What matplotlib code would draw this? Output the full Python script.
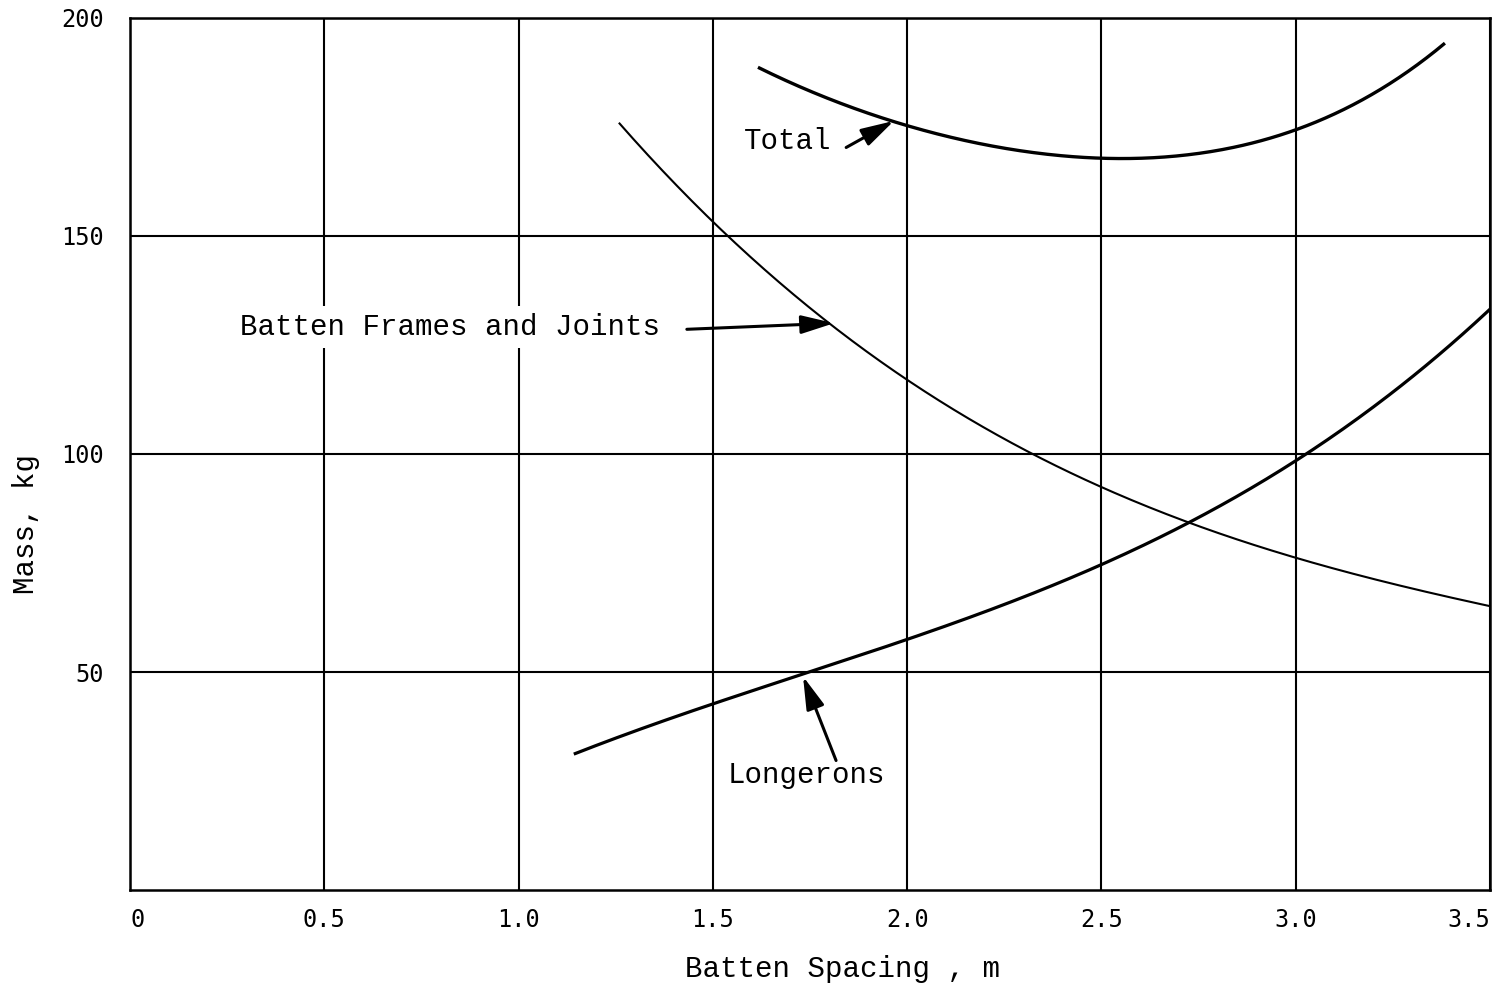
import matplotlib
matplotlib.use("Agg")
import matplotlib.pyplot as plt
import numpy as np

# Data (x = batten spacing in m, y = mass in kg)
total_x = [1.616, 1.80, 1.967, 2.20, 2.37, 2.50, 2.70, 2.90, 3.00, 3.20, 3.384]
total_y = [188.6, 181.5, 176.4, 171.0, 168.2, 167.6, 168.8, 172.0, 174.4, 182.0, 194.5]

batten_x = [1.258, 1.50, 1.81, 2.00, 2.33, 2.50, 2.737, 3.00, 3.25, 3.50]
batten_y = [176.0, 153.0, 130.0, 116.5, 100.0, 91.8, 84.0, 76.4, 70.3, 65.0]

longeron_x = [1.142, 1.50, 1.74, 2.00, 2.25, 2.50, 2.737, 3.00, 3.25, 3.50]
longeron_y = [31.4, 42.1, 50.0, 57.2, 66.0, 75.3, 84.0, 98.2, 114.5, 133.2]

x_ticks = [0, 0.5, 1.0, 1.5, 2.0, 2.5, 3.0, 3.5]
x_ticklabels = ["0", "0.5", "1.0", "1.5", "2.0", "2.5", "3.0", "3.5"]
y_ticks = [50, 100, 150, 200]
y_ticklabels = ["50", "100", "150", "200"]

mono = ["DejaVu Sans Mono"]
courier = ["Liberation Mono"]


def smooth_curve(xs, ys, deg=4, n=300):
    x = np.asarray(xs, float)
    y = np.asarray(ys, float)
    coef = np.polyfit(x, y, deg)
    xx = np.linspace(x[0], x[-1], n)
    return xx, np.polyval(coef, xx)


fig = plt.figure(figsize=(15.02, 9.83), dpi=100)
ax = fig.add_axes([0.0866, 0.0946, 0.9054, 0.8871])
ax.set_xlim(0, 3.5)
ax.set_ylim(0, 200)

for xs, ys, lw, deg in [(total_x, total_y, 2.4, 4), (batten_x, batten_y, 1.5, 3),
                        (longeron_x, longeron_y, 2.3, 3)]:
    xx, yy = smooth_curve(xs, ys, deg)
    ax.plot(xx, yy, color="black", lw=lw, zorder=3, solid_capstyle="butt")

ax.set_xticks(x_ticks)
ax.set_xticklabels(x_ticklabels, family=mono, fontsize=17)
ax.set_yticks(y_ticks)
ax.set_yticklabels(y_ticklabels, family=mono, fontsize=17)
ax.tick_params(axis="x", length=0, pad=13)
ax.tick_params(axis="y", length=0, pad=19)
for lab in ax.get_xticklabels():
    if lab.get_text() == "0":
        lab.set_horizontalalignment("left")
    if lab.get_text() == "3.5":
        lab.set_horizontalalignment("right")
ax.grid(True, color="black", lw=1.5)
for s in ax.spines.values():
    s.set_linewidth(1.8)

ax.set_xlabel("Batten Spacing , m", family=courier, fontsize=21)
ax.xaxis.set_label_coords(0.524, -0.074)
ax.set_ylabel("Mass, kg", family=courier, fontsize=21)
ax.yaxis.set_label_coords(-0.066, 0.42)

arrow = dict(arrowstyle="-|>,head_length=1.0,head_width=0.28", color="black", lw=2.2,
             mutation_scale=20, shrinkA=0, shrinkB=0)

# Total
ax.text(1.58, 171.9, "Total", family=courier, fontsize=21, va="center", ha="left", zorder=5)
ax.annotate("", xy=(1.966, 176.4), xytext=(1.843, 170.3), arrowprops=arrow, zorder=5)

# Batten Frames and Joints
ax.text(0.2835, 129.1, "Batten Frames and Joints", family=courier, fontsize=21,
        va="center", ha="left", zorder=5,
        bbox=dict(boxstyle="square,pad=0.25", fc="white", ec="none"))
ax.annotate("", xy=(1.812, 130.0), xytext=(1.433, 128.6), arrowprops=arrow, zorder=5)

# Longerons
ax.text(1.539, 26.3, "Longerons", family=courier, fontsize=21, va="center", ha="left", zorder=5)
ax.annotate("", xy=(1.732, 49.0), xytext=(1.817, 29.7), arrowprops=arrow, zorder=5)

fig.savefig("out.png", dpi=100, facecolor="white")
